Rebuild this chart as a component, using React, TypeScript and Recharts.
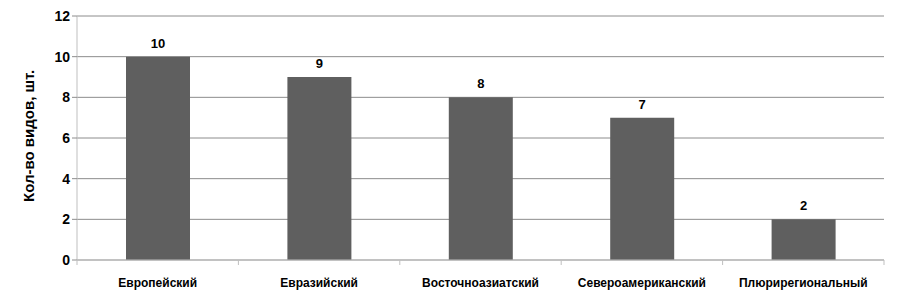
import { Bar, BarChart, CartesianGrid, LabelList, XAxis, YAxis } from "recharts";

const regions = ["Европейский", "Евразийский", "Восточноазиатский", "Североамериканский", "Плюрирегиональный"];
const speciesCount = [10, 9, 8, 7, 2];
const yTicks = [0, 2, 4, 6, 8, 10, 12];

const data = regions.map((name, i) => ({ name, count: speciesCount[i] }));

const FONT = "'Liberation Sans', Arial, sans-serif";

/** Category label centred under the bar, with a tick mark on the band edges like Excel. */
function BandTick(props: any) {
  const { x, y, payload, index } = props;
  const half = payload?.offset ?? 80.7;
  const axisY = y - 8;
  return (
    <g>
      <line x1={x - half} x2={x - half} y1={axisY} y2={axisY + 5} stroke="#bfbfbf" />
      {index === regions.length - 1 && (
        <line x1={x + half} x2={x + half} y1={axisY} y2={axisY + 5} stroke="#bfbfbf" />
      )}
      <text x={x} y={y + 19} textAnchor="middle" fontSize={12} fontWeight="bold" fill="#000" fontFamily={FONT}>
        {payload.value}
      </text>
    </g>
  );
}

export default function App() {
  return (
    <div style={{ position: "absolute", left: 0, top: 0, width: 901, height: 307, background: "#fff" }}>
      <BarChart width={901} height={307} data={data} margin={{ top: 16, right: 17, bottom: 0, left: 0 }}>
        <CartesianGrid vertical={false} stroke="#8c8c8c" />
        <XAxis
          dataKey="name"
          height={47}
          axisLine={{ stroke: "#bfbfbf" }}
          tickLine={false}
          interval={0}
          tick={<BandTick />}
        />
        <YAxis
          domain={[0, 12]}
          ticks={yTicks}
          width={77}
          axisLine={{ stroke: "#bfbfbf" }}
          tickLine={{ stroke: "#8c8c8c" }}
          tickSize={5}
          tick={{ fontSize: 14, fontWeight: "bold", fill: "#000", fontFamily: FONT }}
          label={{
            value: "Кол-во видов, шт.",
            angle: -90,
            position: "insideLeft",
            dx: 24,
            dy: 64,
            style: { fontSize: 15, fontWeight: "bold", fill: "#000", fontFamily: FONT },
          }}
        />
        <Bar dataKey="count" fill="#5f5f5f" barSize={64} isAnimationActive={false}>
          <LabelList
            dataKey="count"
            position="top"
            offset={9}
            style={{ fontSize: 13, fontWeight: "bold", fill: "#000", fontFamily: FONT }}
          />
        </Bar>
      </BarChart>
    </div>
  );
}
